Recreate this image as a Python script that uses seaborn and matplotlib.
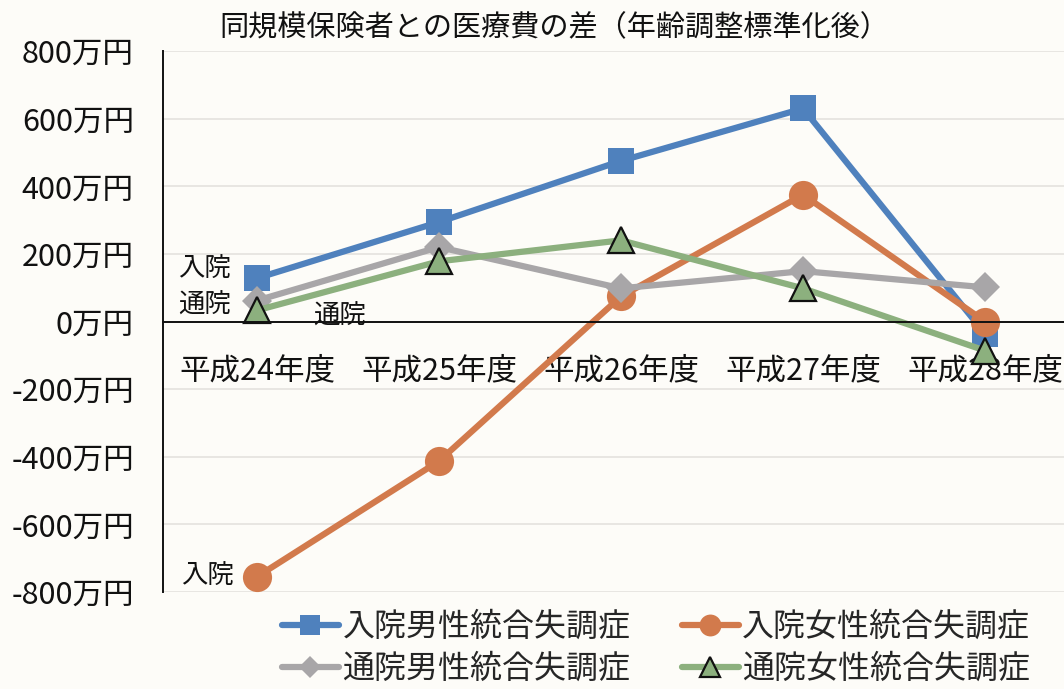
import matplotlib
matplotlib.use("Agg")
import matplotlib.pyplot as plt
import seaborn as sns
import pandas as pd

# Fiscal years
years = ["平成24年度", "平成25年度", "平成26年度", "平成27年度", "平成28年度"]

# Difference in medical costs vs. insurers of the same size (unit: 万円)
inpatient_male = [128, 294, 475, 630, -36]
inpatient_female = [-755, -413, 74, 375, 0]
outpatient_male = [62, 220, 98, 149, 101]
outpatient_female = [33, 178, 240, 98, -86]

series_names = ["入院男性統合失調症", "入院女性統合失調症",
                "通院男性統合失調症", "通院女性統合失調症"]
y_ticks = [-800, -600, -400, -200, 0, 200, 400, 600, 800]

sns.set_theme(style="white")
plt.rcParams["font.family"] = ["Noto Sans CJK JP", "DejaVu Sans"]

bg = "#FDFCF8"
fig = plt.figure(figsize=(10.64, 6.89), dpi=100, facecolor=bg)
ax = fig.add_axes([163 / 1064, 1 - 592 / 689, 1 - 163 / 1064, 541 / 689])
ax.set_facecolor(bg)

styles = [
    dict(values=inpatient_male, color="#4F81BD", marker="s", ms=19, mec="#4F81BD", mew=0),
    dict(values=inpatient_female, color="#D27A4C", marker="o", ms=21, mec="#D27A4C", mew=0),
    dict(values=outpatient_male, color="#A8A6A8", marker="D", ms=15, mec="#A8A6A8", mew=0),
    dict(values=outpatient_female, color="#8CB07E", marker="^", ms=19, mec="#111111", mew=1.6),
]

handles = []
for name, st in zip(series_names, styles):
    df = pd.DataFrame({"year": years, "value": st["values"]})
    sns.lineplot(data=df, x="year", y="value", ax=ax, sort=False,
                 color=st["color"], linewidth=4.5, marker=st["marker"],
                 markersize=st["ms"], markeredgecolor=st["mec"],
                 markeredgewidth=st["mew"], markerfacecolor=st["color"],
                 label=name, legend=False)
    handles.append(ax.get_lines()[-1])

ax.set_xlim(-0.516, 4.434)
ax.set_ylim(-800, 800)
ax.set_yticks(y_ticks)
ax.set_yticklabels([f"{v}万円" for v in y_ticks], fontsize=22)
ax.yaxis.grid(True, color="#E4E2DE", linewidth=1.2)
ax.xaxis.grid(False)
ax.set_xlabel("")
ax.set_ylabel("")

for s in ["top", "right"]:
    ax.spines[s].set_visible(False)
ax.spines["left"].set_color("#111111")
ax.spines["left"].set_linewidth(1.4)
ax.spines["bottom"].set_position(("data", 0))
ax.spines["bottom"].set_color("#111111")
ax.spines["bottom"].set_linewidth(1.4)
ax.tick_params(axis="both", length=0, colors="#111111")
ax.tick_params(axis="y", pad=21)
ax.tick_params(axis="x", pad=24, labelsize=22)

# Series labels beside the first points
label_kw = dict(fontsize=19, color="#111111", ha="center", va="center")
ax.text(-0.286, 157, "入院", **label_kw)
ax.text(-0.286, 47, "通院", **label_kw)
ax.text(0.456, 15, "通院", **label_kw)
ax.text(-0.27, -752, "入院", **label_kw)

fig.text(554 / 1064, 1 - 28 / 689, "同規模保険者との医療費の差（年齢調整標準化後）",
         fontsize=21, ha="center", va="center", color="#111111")

order = [handles[0], handles[2], handles[1], handles[3]]
labels = [series_names[0], series_names[2], series_names[1], series_names[3]]
leg = fig.legend(order, labels, ncol=2, loc="center",
                 bbox_to_anchor=(656 / 1064, 1 - 648 / 689),
                 frameon=False, fontsize=23, handlelength=1.8,
                 handletextpad=0.1, columnspacing=1.6, labelspacing=0.3)
for h in leg.legend_handles:
    h.set_markersize(h.get_markersize() * 0.75)

fig.savefig("out.png", dpi=100, facecolor=bg)
